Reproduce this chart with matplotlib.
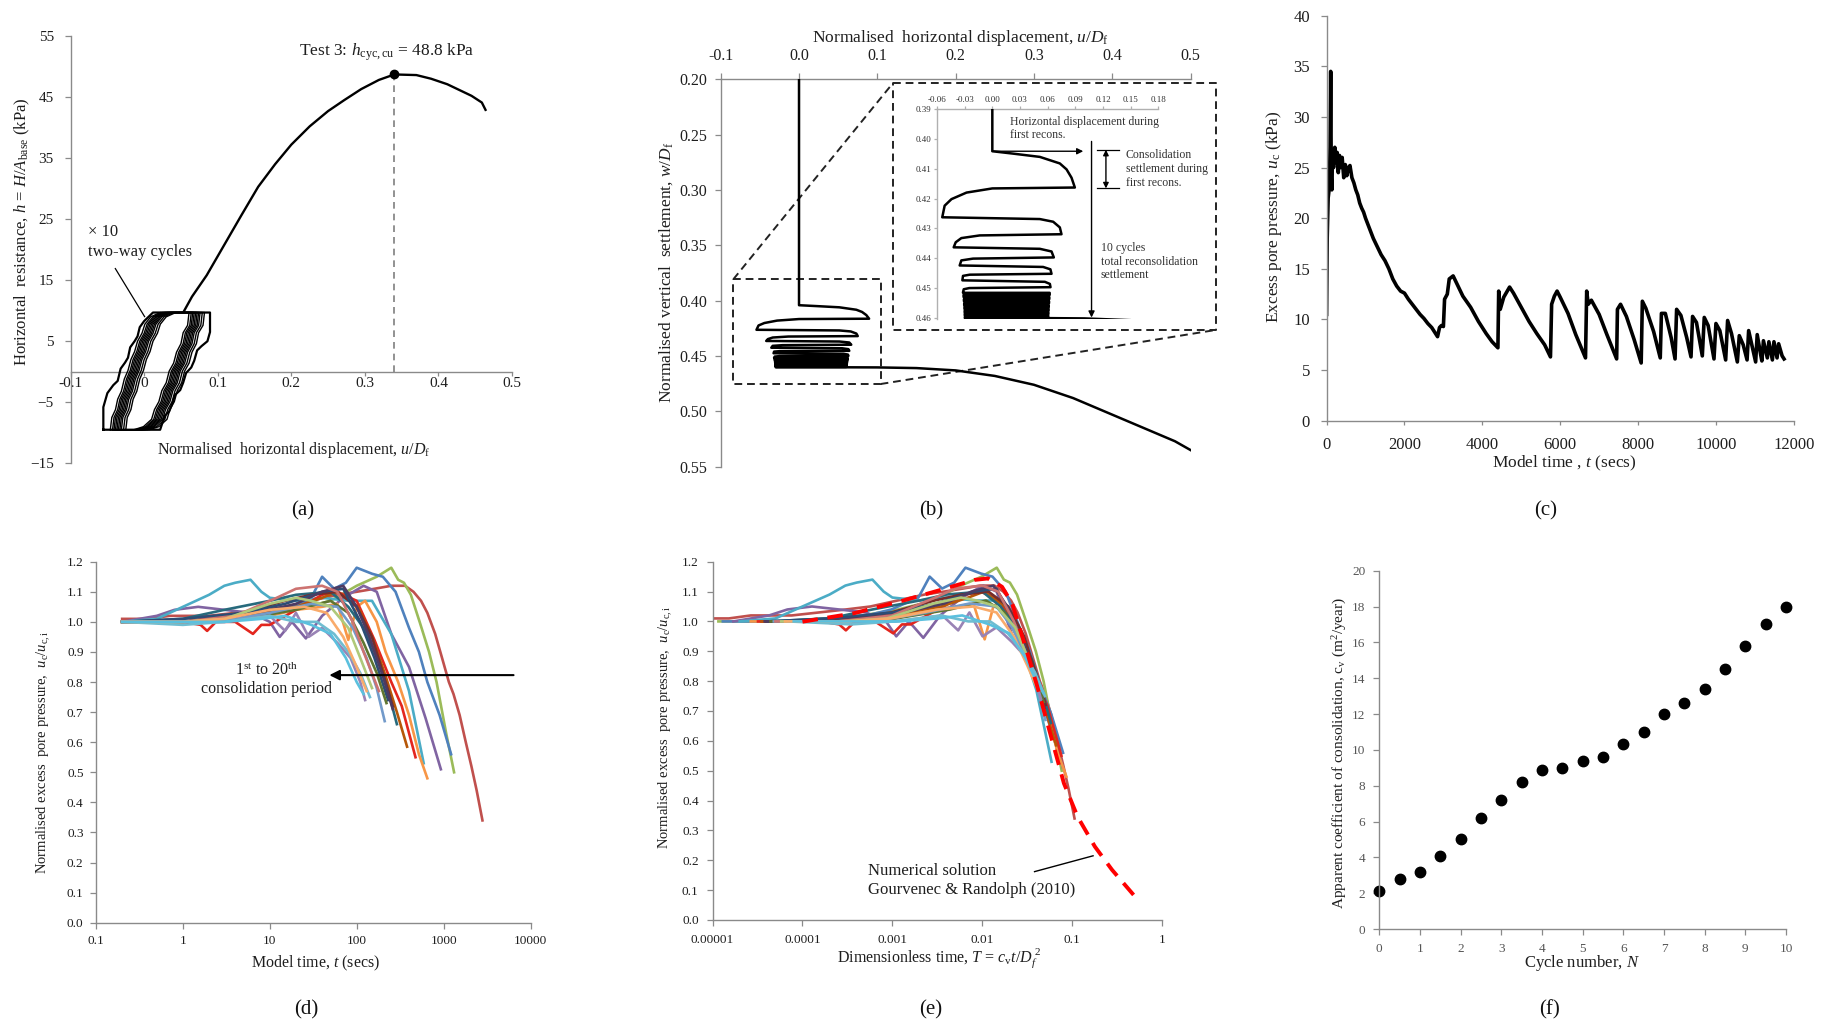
import matplotlib
matplotlib.use("Agg")
import matplotlib.pyplot as plt
import numpy as np

plt.rcParams['font.family'] = ['Liberation Serif', 'DejaVu Serif']
plt.rcParams['mathtext.fontset'] = 'custom'
plt.rcParams['mathtext.rm'] = 'Liberation Serif'
plt.rcParams['mathtext.it'] = 'Liberation Serif:italic'
plt.rcParams['mathtext.bf'] = 'Liberation Serif:bold'

# ---------------- data ----------------
# (a) horizontal resistance vs displacement
a_mono_u = [0.054, 0.065, 0.085, 0.108, 0.132, 0.155, 0.178, 0.20, 0.225, 0.25, 0.272, 0.295, 0.319, 0.34,
            0.37, 0.39, 0.412, 0.445, 0.459, 0.464]
a_mono_h = [9.9, 12.3, 15.8, 20.6, 25.6, 30.3, 34.0, 37.2, 40.2, 42.7, 44.5, 46.3, 47.8, 48.7,
            48.6, 48.0, 47.1, 45.2, 44.1, 42.9]
a_peak = (0.34, 48.8)
a_outer_u = [-0.0555, -0.0555, -0.050, -0.042, -0.036, -0.032, -0.026, -0.022, -0.019, -0.013, -0.009,
             -0.006, 0.0, 0.006, 0.012, 0.0895, 0.0895, 0.086, 0.078, 0.072, 0.068, 0.064, 0.057, 0.053,
             0.049, 0.042, 0.038, 0.034, 0.028, 0.025, 0.0217, -0.0555]
a_outer_h = [-9.5, -5.8, -3.5, -2.2, -1.5, 0.5, 1.5, 2.3, 4.0, 5.0, 5.8, 7.3, 8.3, 9.0, 9.7, 9.7, 6.5,
             5.0, 4.2, 3.5, 1.8, 0.7, -0.2, -1.8, -3.0, -3.8, -5.3, -6.5, -7.2, -8.3, -9.5, -9.5]
a_inner_u = [-0.035, -0.033, -0.028, -0.025, -0.020, -0.016, -0.011, -0.007, -0.002, 0.002, 0.008, 0.012,
             0.020, 0.033, 0.072, 0.070, 0.064, 0.061, 0.055, 0.051, 0.045, 0.041, 0.035, 0.031, 0.025,
             0.021, 0.010, -0.003, -0.035]
a_inner_h = [-9.5, -7.5, -6.2, -4.5, -3.2, -1.2, 0.2, 2.0, 3.3, 5.0, 6.3, 7.8, 9.0, 9.7, 9.7, 7.6, 6.4,
             4.6, 3.2, 1.4, 0.1, -1.8, -3.1, -4.9, -6.2, -7.8, -9.0, -9.5, -9.5]
a_cycle_shift = [-0.011, -0.008, -0.006, -0.004, -0.002, 0.0, 0.002, 0.004, 0.007, 0.010]
a_xticks = [-0.1, 0.0, 0.1, 0.2, 0.3, 0.4, 0.5]
a_xticklabels = ['-0.1', '0', '0.1', '0.2', '0.3', '0.4', '0.5']
a_yticks = [-15, -5, 5, 15, 25, 35, 45, 55]

# (b) settlement path: pre-cycling, first ten runs, dense runs, post-cycling tail
b_path_u = [0.0, 0.0, 0.0225, 0.0515, 0.0732, 0.0805, 0.0859, 0.0895,
            0.0, -0.028, -0.0443, -0.0517, -0.0543,
            0.0515, 0.066, 0.0732, 0.075,
            -0.0137, -0.0336, -0.0397, -0.0419,
            0.0515, 0.0642, 0.0667,
            -0.0209, -0.0336, -0.0354,
            0.0551, 0.063, 0.0642,
            -0.0245, -0.0318, -0.0325,
            0.057, 0.0624, 0.0631,
            -0.025, -0.031, -0.0318]
b_path_w = [0.20, 0.4041, 0.4049, 0.4060, 0.4082, 0.4102, 0.4130, 0.4163,
            0.4166, 0.4180, 0.4202, 0.4224, 0.4263,
            0.4269, 0.4278, 0.4297, 0.4320,
            0.4324, 0.4333, 0.4347, 0.4364,
            0.4369, 0.4378, 0.4398,
            0.4402, 0.4408, 0.4425,
            0.4430, 0.4438, 0.4453,
            0.4456, 0.4460, 0.4475,
            0.4480, 0.4487, 0.4498,
            0.4501, 0.4505, 0.4515]
b_dense_w = [0.4517, 0.4524, 0.4531, 0.4538, 0.4545, 0.4552, 0.4559, 0.4565, 0.4571, 0.4577, 0.4583,
             0.4588, 0.4593, 0.4598]
b_dense_u = [0.0622, -0.0312, 0.0618, -0.0308, 0.0615, -0.0305, 0.0612, -0.0302, 0.0610, -0.0300,
             0.0608, -0.0299, 0.0606, -0.0298]
b_tail_u = [-0.0298, 0.06, 0.10, 0.15, 0.20, 0.25, 0.30, 0.35, 0.40, 0.45, 0.48, 0.50]
b_tail_w = [0.4602, 0.4602, 0.4603, 0.4609, 0.463, 0.468, 0.476, 0.488, 0.503, 0.518, 0.527, 0.535]
b_xticks = [-0.1, 0.0, 0.1, 0.2, 0.3, 0.4, 0.5]
b_yticks = [0.20, 0.25, 0.30, 0.35, 0.40, 0.45, 0.50, 0.55]
bi_xticks = [-0.06, -0.03, 0.0, 0.03, 0.06, 0.09, 0.12, 0.15, 0.18]
bi_yticks = [0.39, 0.40, 0.41, 0.42, 0.43, 0.44, 0.45, 0.46]

# (c) excess pore pressure history
c_t = [0, 15, 40, 70, 90, 105, 120, 135, 150, 180, 210, 240, 270, 300, 330, 360, 400, 440, 480, 520,
       560, 600, 650, 700, 750, 800, 850, 900, 950, 1000, 1100, 1200, 1300, 1400, 1500, 1600, 1700,
       1800, 1900, 2000, 2100, 2200, 2300, 2400, 2500, 2600, 2700, 2800, 2850, 2900, 2950, 3000,
       3030, 3100, 3150, 3250, 3350, 3500, 3700, 3900, 4100, 4250, 4400, 4420, 4460, 4550, 4700,
       4800, 5000, 5200, 5400, 5600, 5750, 5780, 5850, 5920, 6000, 6200, 6400, 6650, 6680, 6720,
       6800, 7000, 7200, 7450, 7470, 7550, 7700, 7900, 8080, 8110, 8200, 8400, 8570, 8600, 8700,
       8850, 8950, 8990, 9100, 9250, 9360, 9400, 9500, 9650, 9700, 9800, 9950, 10000, 10100, 10250,
       10300, 10400, 10550, 10600, 10700, 10800, 10840, 10950, 11020, 11060, 11150, 11180, 11220,
       11320, 11360, 11450, 11490, 11570, 11610, 11700, 11750]
c_u = [10.5, 18, 22, 23, 27, 34.5, 24, 22.8, 26.5, 25, 27, 25.5, 26.5, 24.5, 26.2, 25, 26, 24, 25.3,
       24.2, 25, 25.2, 24, 23.5, 22.8, 22.3, 21.5, 21, 20.6, 20, 19, 18, 17.2, 16.4, 15.8, 15, 14,
       13.3, 12.8, 12.6, 12, 11.5, 11, 10.5, 10.1, 9.6, 9.2, 8.6, 8.3, 9.2, 9.4, 9.3,
       12, 12.5, 14, 14.3, 13.5, 12.3, 11.2, 9.8, 8.6, 7.8, 7.2, 12.8, 11, 12.2, 13.2,
       12.6, 11.2, 9.8, 8.6, 7.5, 6.3, 11.5, 12.3, 12.8, 12.2, 10.6, 8.5, 6.2, 12.8, 11.5,
       11.9, 10.5, 8.5, 6.1, 11, 11.5, 10.3, 8, 5.7, 11.8, 11.1, 8.8, 6.2, 10.6, 10.6,
       8.2, 6.1, 11, 10.4, 8.2, 6.3, 10.3, 9.7, 6.4, 10.2, 9.4, 6.1, 9.6, 8.9, 6.0,
       9.9, 8.6, 5.8, 8.4, 7.5, 6.0, 8.9, 7.0, 5.8, 8.5, 6.5, 5.9, 7.9,
       6.2, 7.8, 6.0, 7.8, 6.2, 7.6, 6.4, 6.1]

# (d) normalised pore pressure for the 20 reconsolidation periods (1st -> 20th)
d_t = [
    [0.2, 0.4, 0.7, 1, 2, 4, 8, 15, 30, 60, 100, 160, 250, 360, 450, 550, 650, 800, 960, 1150, 1300, 1530, 1800, 2090, 2400, 2800],
    [0.2, 0.5, 1, 3, 8, 20, 50, 100, 170, 250, 300, 350, 420, 530, 680, 830, 1070, 1320],
    [0.2, 0.5, 1, 3, 8, 15, 30, 40, 55, 75, 100, 150, 200, 280, 400, 520, 650, 900, 1220],
    [0.2, 0.5, 0.8, 1.5, 3, 6, 10, 13, 18, 26, 40, 70, 120, 170, 250, 400, 620, 930],
    [0.2, 0.5, 1, 2, 3, 4, 6, 8, 10, 20, 40, 80, 150, 250, 400, 590],
    [0.2, 1, 5, 10, 20, 40, 60, 80, 100, 125, 170, 215, 300, 400, 520, 650],
    [0.2, 1, 1.6, 1.9, 2.4, 4, 6.4, 8, 10, 20, 40, 60, 100, 160, 250, 330, 475],
    [0.2, 1, 5, 20, 40, 60, 103, 150, 215, 290, 380],
    [0.2, 1, 3, 10, 20, 50, 80, 120, 180, 240, 290],
    [0.2, 1, 5, 15, 30, 60, 100, 150, 200, 260],
    [0.2, 1, 5, 15, 40, 70, 110, 160, 230],
    [0.2, 1, 5, 20, 40, 70, 100, 140, 200, 260],
    [0.2, 1, 5, 20, 50, 80, 120, 170, 220],
    [0.2, 1, 4, 10, 30, 60, 90, 130, 170, 210],
    [0.2, 1, 4, 12, 20, 40, 60, 90, 120, 180],
    [0.2, 1, 3, 10, 20, 30, 50, 80, 110, 150],
    [0.2, 1, 3, 10, 15, 20, 28, 40, 60, 85, 110, 125],
    [0.2, 1, 3, 10, 20, 35, 55, 80, 110, 142],
    [0.2, 1, 3, 10, 25, 45, 70, 100, 130],
    [0.2, 1, 3, 8, 15, 30, 50, 75, 100, 120],
]
d_y = [
    [1.01, 1.01, 1.02, 1.02, 1.02, 1.03, 1.04, 1.05, 1.07, 1.09, 1.10, 1.11, 1.12, 1.12, 1.10, 1.07, 1.03, 0.96, 0.88, 0.80, 0.76, 0.69, 0.60, 0.52, 0.44, 0.34],
    [1.0, 1.0, 1.0, 1.01, 1.02, 1.04, 1.07, 1.12, 1.15, 1.18, 1.14, 1.13, 1.09, 1.0, 0.9, 0.8, 0.63, 0.50],
    [1.0, 1.0, 1.0, 1.01, 1.02, 1.04, 1.08, 1.15, 1.11, 1.13, 1.18, 1.16, 1.15, 1.1, 0.98, 0.9, 0.8, 0.69, 0.56],
    [1.0, 1.02, 1.04, 1.05, 1.04, 1.03, 1.0, 0.95, 1.0, 0.945, 1.02, 1.08, 1.12, 1.1, 0.96, 0.85, 0.68, 0.51],
    [1.0, 1.01, 1.05, 1.09, 1.12, 1.13, 1.14, 1.1, 1.08, 1.07, 1.08, 1.07, 1.07, 0.96, 0.77, 0.53],
    [1.0, 1.0, 1.01, 1.02, 1.04, 1.05, 1.06, 0.94, 1.05, 1.07, 1.0, 0.9, 0.8, 0.69, 0.56, 0.48],
    [1.0, 1.0, 0.99, 0.97, 1.0, 1.0, 0.96, 0.99, 0.99, 1.04, 1.09, 1.1, 1.07, 0.94, 0.8, 0.72, 0.55],
    [1.0, 1.0, 1.02, 1.05, 1.08, 1.1, 1.05, 0.95, 0.82, 0.7, 0.585],
    [1.0, 1.01, 1.04, 1.07, 1.09, 1.1, 1.05, 0.98, 0.87, 0.75, 0.66],
    [1.0, 1.0, 1.03, 1.07, 1.09, 1.1, 1.05, 0.95, 0.83, 0.72],
    [1.0, 1.01, 1.03, 1.06, 1.1, 1.11, 1.0, 0.88, 0.74],
    [1.0, 1.0, 1.02, 1.06, 1.1, 1.12, 1.05, 0.95, 0.82, 0.71],
    [1.0, 1.0, 1.01, 1.04, 1.07, 1.03, 0.93, 0.83, 0.73],
    [1.0, 1.0, 1.01, 1.03, 1.06, 1.05, 0.98, 0.88, 0.78, 0.67],
    [1.0, 1.0, 1.02, 1.08, 1.11, 1.12, 1.1, 1.0, 0.9, 0.77],
    [1.0, 1.0, 1.01, 1.06, 1.08, 1.07, 1.05, 0.98, 0.88, 0.78],
    [1.0, 1.0, 1.0, 1.02, 0.97, 1.03, 0.95, 0.98, 0.93, 0.88, 0.8, 0.74],
    [1.0, 0.99, 1.0, 1.02, 1.0, 1.0, 0.96, 0.9, 0.83, 0.75],
    [1.0, 1.0, 1.01, 1.04, 1.05, 1.03, 0.95, 0.85, 0.77],
    [1.0, 1.0, 1.0, 1.01, 1.02, 0.99, 0.96, 0.88, 0.8, 0.76],
]
# (e) factor c_v/D_f^2 for each period (T = factor * t)
e_factor = [3.8e-5, 5.8e-5, 6.5e-5, 8.5e-5, 1.0e-4, 1.33e-4, 1.6e-4, 1.75e-4, 2.0e-4, 1.95e-4,
            2.05e-4, 1.9e-4, 2.2e-4, 2.4e-4, 2.5e-4, 2.9e-4, 3.6e-4, 3.5e-4, 3.2e-4, 4.0e-4]
e_num_T = [1e-4, 3.7e-4, 1.4e-3, 3.4e-3, 8.2e-3, 0.0116, 0.0166, 0.0215, 0.031, 0.040, 0.057, 0.081, 0.115, 0.179, 0.278, 0.54]
e_num_u = [0.999, 1.027, 1.072, 1.105, 1.139, 1.144, 1.116, 1.06, 0.904, 0.793, 0.625, 0.458, 0.346, 0.246, 0.168, 0.067]
d_colors = ['#C0504D', '#9BBB59', '#4F81BD', '#8064A2', '#4BACC6', '#F79646', '#E3261E', '#B65708',
            '#276A7C', '#772C2A', '#2C4D75', '#4D3B62', '#5F7530', '#729ACA', '#CD7371', '#AFC97A',
            '#9983B5', '#6FBDD1', '#F9AB6B', '#5BC0DE']

# (f) apparent coefficient of consolidation
f_N = [0, 0.5, 1, 1.5, 2, 2.5, 3, 3.5, 4, 4.5, 5, 5.5, 6, 6.5, 7, 7.5, 8, 8.5, 9, 9.5, 10]
f_cv = [2.1, 2.8, 3.2, 4.1, 5.0, 6.2, 7.2, 8.2, 8.9, 9.0, 9.4, 9.6, 10.3, 11.0, 12.0, 12.6, 13.4, 14.5, 15.8, 17.0, 18.0]

# ---------------- figure ----------------
W, H = 1830, 1029
AXC = '#8a8a8a'
TXT = '#1e1e1e'
fig = plt.figure(figsize=(W / 100, H / 100), dpi=100)


def add_ax(l, t, r, b):
    return fig.add_axes([l / W, 1 - b / H, (r - l) / W, (b - t) / H])


def ftext(x, y, s, **kw):
    kw.setdefault('color', TXT)
    kw.setdefault('ha', 'center')
    kw.setdefault('va', 'center')
    return fig.text(x / W, 1 - y / H, s, **kw)


def style(ax, show, size, col=AXC):
    for k, sp in ax.spines.items():
        sp.set_visible(k in show)
        sp.set_color(col)
        sp.set_linewidth(1.0)
    ax.tick_params(colors=col, labelcolor=TXT, labelsize=size, length=4, width=0.9)
    ax.set_facecolor('none')


# ---- (a)
ax = add_ax(70.6, 36, 512, 463.3)
ax.set_xlim(-0.1, 0.5)
ax.set_ylim(-15, 55)
style(ax, ['left', 'bottom'], 11)
ax.spines['bottom'].set_position(('data', 0))
ax.set_xticks(a_xticks)
ax.set_xticklabels(a_xticklabels)
ax.set_yticks(a_yticks)
ax.tick_params(axis='x', length=3, pad=1)
ax.tick_params(axis='y', pad=8)
ax.plot([a_peak[0], a_peak[0]], [0, a_peak[1]], ls=(0, (4, 3)), color='#7f7f7f', lw=1.2)
ax.plot(a_mono_u, a_mono_h, color='k', lw=1.7, zorder=3)
ax.plot(a_outer_u, a_outer_h, color='k', lw=1.6, zorder=3)
for s in a_cycle_shift:
    ax.plot(np.array(a_inner_u) + s, a_inner_h, color='k', lw=1.0, zorder=3)
ax.plot(*a_peak, 'o', color='k', ms=6, zorder=4)
ax.plot([-0.0392, 0.0006], [16.9, 9.03], color='k', lw=0.9)
ftext(387, 52, 'Test 3: $h_{\\rm cyc,cu}$ = 48.8 kPa', fontsize=12.5)
ftext(88, 232, '× 10', ha='left', fontsize=12)
ftext(88, 252, 'two-way cycles', ha='left', fontsize=12)
ftext(294, 450, 'Normalised  horizontal displacement, $u$/$D_{\\rm f}$', fontsize=11.5)
ftext(22, 232, 'Horizontal  resistance, $h$ = $H$/$A_{\\rm base}$ (kPa)', rotation=90, fontsize=12)

# ---- (b)
axb = add_ax(720.7, 79.3, 1190.6, 466.7)
axb.set_xlim(-0.1, 0.5)
axb.set_ylim(0.55, 0.2)
style(axb, ['left', 'top'], 11.5)
axb.xaxis.tick_top()
axb.set_xticks(b_xticks)
axb.set_xticklabels(['%.1f' % v for v in b_xticks])
axb.set_yticks(b_yticks)
axb.set_yticklabels(['%.2f' % v for v in b_yticks])
axb.tick_params(axis='x', pad=7)
axb.tick_params(axis='y', pad=6)

path_u = list(b_path_u)
path_w = list(b_path_w)
for w, u in zip(b_dense_w, b_dense_u):
    path_u += [path_u[-1], u]
    path_w += [w, w]
path_u += b_tail_u
path_w += b_tail_w
axb.plot(path_u, path_w, color='k', lw=1.8, zorder=3)

bx0, bx1, by0, by1 = -0.0839, 0.1042, 0.3807, 0.4753
BX0, BX1, BY0, BY1 = 0.1204, 0.5318, 0.203, 0.4265
dash = dict(color='#222222', lw=1.4, ls=(0, (4, 2.5)), clip_on=False)
axb.plot([bx0, bx1, bx1, bx0, bx0], [by0, by0, by1, by1, by0], **dash)
axb.plot([BX0, BX1, BX1, BX0, BX0], [BY0, BY0, BY1, BY1, BY0], **dash)
axb.plot([bx0, BX0], [by0, BY0], **dash)
axb.plot([bx1, BX1], [by1, BY1], **dash)
ftext(961, 38, 'Normalised  horizontal displacement, $u$/$D_{\\rm f}$', fontsize=12.5)
ftext(666, 272, 'Normalised vertical  settlement, $w$/$D_{\\rm f}$', rotation=90, fontsize=12.5)

# inset of (b)
axi = add_ax(937, 109.3, 1158.3, 319.3)
axi.set_xlim(-0.06, 0.18)
axi.set_ylim(0.4606, 0.39)
style(axi, ['left', 'top'], 6.5, col='#b0b0b0')
axi.xaxis.tick_top()
axi.set_xticks(bi_xticks)
axi.set_xticklabels(['%.2f' % v for v in bi_xticks])
axi.set_yticks(bi_yticks)
axi.set_yticklabels(['%.2f' % v for v in bi_yticks])
axi.tick_params(length=2, pad=2, labelcolor='#333333')
axi.plot(path_u, path_w, color='k', lw=1.8, zorder=3)
arr = dict(arrowstyle='-|>', color='k', lw=1.0, mutation_scale=9, shrinkA=0, shrinkB=0)
axi.annotate('', xy=(0.0986, 0.4041), xytext=(0.0, 0.4041), arrowprops=arr)
axi.annotate('', xy=(0.1076, 0.4600), xytext=(0.1076, 0.4008), arrowprops=arr)
axi.annotate('', xy=(0.1232, 0.4166), xytext=(0.1232, 0.4036),
             arrowprops=dict(arrowstyle='<|-|>', color='k', lw=1.0, mutation_scale=8, shrinkA=0, shrinkB=0))
axi.plot([0.1134, 0.1369], [0.4036, 0.4036], color='k', lw=0.9)
axi.plot([0.1134, 0.1369], [0.4166, 0.4166], color='k', lw=0.9)
itx = dict(ha='left', fontsize=8.5, color='#333333')
ftext(1010, 121.7, 'Horizontal displacement during', **itx)
ftext(1010, 135.5, 'first recons.', **itx)
ftext(1126, 155, 'Consolidation', **itx)
ftext(1126, 169, 'settlement during', **itx)
ftext(1126, 183, 'first recons.', **itx)
ftext(1100.7, 248, '10 cycles', **itx)
ftext(1100.7, 261.7, 'total reconsolidation', **itx)
ftext(1100.7, 275, 'settlement', **itx)

# ---- (c)
axc = add_ax(1326.6, 15.7, 1793.8, 420.7)
axc.set_xlim(0, 12000)
axc.set_ylim(0, 40)
style(axc, ['left', 'bottom'], 12)
axc.set_xticks([0, 2000, 4000, 6000, 8000, 10000, 12000])
axc.set_yticks([0, 5, 10, 15, 20, 25, 30, 35, 40])
axc.tick_params(axis='x', length=3, pad=9)
axc.tick_params(axis='y', pad=8)
axc.plot(c_t, c_u, color='k', lw=2.6)
ftext(1564.5, 463, 'Model time , $t$ (secs)', fontsize=12.5)
ftext(1274, 217, 'Excess pore pressure, $u_{\\rm c}$ (kPa)', rotation=90, fontsize=12.5)

# ---- (d)
axd = add_ax(96, 561.7, 530.5, 922.7)
axd.set_xscale('log')
axd.set_xlim(0.1, 10000)
axd.set_ylim(0, 1.2)
style(axd, ['left', 'bottom'], 9.5)
d_xt = [0.1, 1, 10, 100, 1000, 10000]
axd.set_xticks(d_xt)
axd.set_xticklabels(['0.1', '1', '10', '100', '1000', '10000'])
axd.minorticks_off()
yt = [i / 10 for i in range(13)]
axd.set_yticks(yt)
axd.set_yticklabels(['%.1f' % v for v in yt])
axd.tick_params(axis='both', pad=5)
for t, y, c in zip(d_t, d_y, d_colors):
    axd.plot(t, y, color=c, lw=1.9)
axd.annotate('', xy=(48.4, 0.823), xytext=(6380, 0.823),
             arrowprops=dict(arrowstyle='-|>', color='k', lw=1.5, mutation_scale=15, shrinkA=0, shrinkB=0))
ftext(266.8, 670, '1$^{\\rm st}$ to 20$^{\\rm th}$', fontsize=11.5)
ftext(266.8, 689, 'consolidation period', fontsize=11.5)
ftext(316, 963, 'Model time, $t$ (secs)', fontsize=11.5)
ftext(43.7, 752, 'Normalised excess  pore pressure,  $u_{\\rm c}$/$u_{\\rm c,i}$', rotation=90, fontsize=10.5)

# ---- (e)
axe = add_ax(712.6, 561.7, 1162, 920)
axe.set_xscale('log')
axe.set_xlim(1e-5, 1)
axe.set_ylim(0, 1.2)
style(axe, ['left', 'bottom'], 9.5)
e_xt = [1e-5, 1e-4, 1e-3, 1e-2, 1e-1, 1]
axe.set_xticks(e_xt)
axe.set_xticklabels(['0.00001', '0.0001', '0.001', '0.01', '0.1', '1'])
axe.minorticks_off()
axe.set_yticks(yt)
axe.set_yticklabels(['%.1f' % v for v in yt])
axe.tick_params(axis='both', pad=6)
for t, y, k, c in zip(d_t, d_y, e_factor, d_colors):
    axe.plot(np.array(t) * k, y, color=c, lw=1.9)
axe.plot(e_num_T, e_num_u, color='#FF0000', lw=2.8, ls=(0, (4, 2.5)), zorder=5)
axe.plot([0.0382, 0.171], [0.162, 0.215], color='k', lw=1.0)
ftext(867.6, 871, 'Numerical solution', ha='left', fontsize=12)
ftext(867.6, 890, 'Gourvenec & Randolph (2010)', ha='left', fontsize=12)
ftext(939, 958, 'Dimensionless time, $T$ = $c_{\\rm v}t$/$D_f^{\\ 2}$', fontsize=11.5)
ftext(666, 727, 'Normalised excess  pore pressure,  $u_{\\rm c}$/$u_{\\rm c,i}$', rotation=90, fontsize=10.5)

# ---- (f)
axf = add_ax(1379.3, 570.7, 1786, 929)
axf.set_xlim(0, 10)
axf.set_ylim(0, 20)
style(axf, ['left', 'bottom'], 9.5)
axf.set_xticks(list(range(11)))
axf.set_yticks(list(range(0, 21, 2)))
axf.tick_params(labelcolor='#555555', pad=6)
axf.plot(f_N, f_cv, 'o', color='k', ms=7.5, clip_on=False)
ftext(1582, 963, 'Cycle number, $N$', fontsize=12)
ftext(1340, 753, 'Apparent coefficient of consolidation, c$_{\\rm v}$ (m$^2$/year)', rotation=90, fontsize=11)

# panel letters
for x, y, s in [(303, 511, '(a)'), (931, 511, '(b)'), (1546, 511, '(c)'),
                (306, 1010, '(d)'), (931, 1010, '(e)'), (1550, 1010, '(f)')]:
    ftext(x, y, s, fontsize=15, color='#111111')

fig.savefig('out.png', dpi=100)
